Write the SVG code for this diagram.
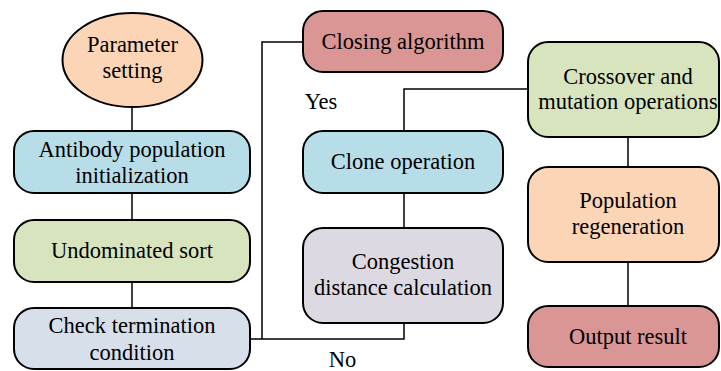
<svg xmlns="http://www.w3.org/2000/svg" width="721" height="371" viewBox="0 0 721 371" font-family="Liberation Serif, serif">
  <style>
    .box { stroke: #000; stroke-width: 2; }
    .wire { fill: none; stroke: #000; stroke-width: 1.5; }
    .peach { fill: #FBD5B5; }
    .blue { fill: #B7DEE8; }
    .green { fill: #D7E4BD; }
    .grey { fill: #D6DFEA; }
    .rose { fill: #D99694; }
    .lilac { fill: #DDD9E3; }
  </style>
  <rect width="721" height="371" fill="#fff"/>

  <!-- flow lines between the steps -->
  <g id="connectors">
    <path class="wire" d="M132,107 V131"/>
    <path class="wire" d="M132,193 V220"/>
    <path class="wire" d="M132,282 V308"/>
    <path class="wire" d="M250,339 H404 V323"/>
    <path class="wire" d="M262,339 V42 H303"/>
    <path class="wire" d="M404,131 V89 H528"/>
    <path class="wire" d="M404,193 V228"/>
    <path class="wire" d="M628,137 V167"/>
    <path class="wire" d="M628,262 V306"/>
  </g>

  <g id="parameter-setting">
    <ellipse class="box peach" cx="132.5" cy="60" rx="70" ry="47"/>
    <text x="132.5" y="52" font-family="Liberation Serif, serif" font-size="22.5" text-anchor="middle">Parameter</text>
    <text x="132.5" y="78" font-family="Liberation Serif, serif" font-size="22.5" text-anchor="middle">setting</text>
  </g>
  <g id="antibody-init">
    <rect class="box blue" x="14" y="131" width="236" height="62" rx="20"/>
    <text x="132" y="157" font-family="Liberation Serif, serif" font-size="22.5" text-anchor="middle">Antibody population</text>
    <text x="132" y="183" font-family="Liberation Serif, serif" font-size="22.5" text-anchor="middle">initialization</text>
  </g>
  <g id="undominated-sort">
    <rect class="box green" x="14" y="220" width="236" height="62" rx="20"/>
    <text x="132" y="258" font-family="Liberation Serif, serif" font-size="22.5" text-anchor="middle">Undominated sort</text>
  </g>
  <g id="check-termination">
    <rect class="box grey" x="14" y="308" width="236" height="61" rx="20"/>
    <text x="132" y="333" font-family="Liberation Serif, serif" font-size="22.5" text-anchor="middle">Check termination</text>
    <text x="132" y="360" font-family="Liberation Serif, serif" font-size="22.5" text-anchor="middle">condition</text>
  </g>
  <g id="closing-algorithm">
    <rect class="box rose" x="303" y="11" width="200" height="61" rx="20"/>
    <text x="403" y="49" font-family="Liberation Serif, serif" font-size="22.5" text-anchor="middle">Closing algorithm</text>
  </g>
  <g id="clone-operation">
    <rect class="box blue" x="303" y="131" width="200" height="62" rx="20"/>
    <text x="403" y="169" font-family="Liberation Serif, serif" font-size="22.5" text-anchor="middle">Clone operation</text>
  </g>
  <g id="congestion-distance">
    <rect class="box lilac" x="303" y="228" width="200" height="95" rx="20"/>
    <text x="403" y="269" font-family="Liberation Serif, serif" font-size="22.5" text-anchor="middle">Congestion</text>
    <text x="403" y="295" font-family="Liberation Serif, serif" font-size="22.5" text-anchor="middle">distance calculation</text>
  </g>
  <g id="crossover-mutation">
    <rect class="box green" x="528" y="42" width="191" height="95" rx="20"/>
    <text x="628" y="84" font-family="Liberation Serif, serif" font-size="22.5" text-anchor="middle">Crossover and</text>
    <text x="628" y="109" font-family="Liberation Serif, serif" font-size="22.5" text-anchor="middle">mutation operations</text>
  </g>
  <g id="population-regeneration">
    <rect class="box peach" x="528" y="167" width="191" height="95" rx="20"/>
    <text x="628" y="208" font-family="Liberation Serif, serif" font-size="22.5" text-anchor="middle">Population</text>
    <text x="628" y="234" font-family="Liberation Serif, serif" font-size="22.5" text-anchor="middle">regeneration</text>
  </g>
  <g id="output-result">
    <rect class="box rose" x="528" y="306" width="191" height="61" rx="20"/>
    <text x="628" y="344" font-family="Liberation Serif, serif" font-size="22.5" text-anchor="middle">Output result</text>
  </g>

  <!-- branch labels -->
  <g id="labels">
    <text x="321" y="109" font-family="Liberation Serif, serif" font-size="22.5" text-anchor="middle">Yes</text>
    <text x="342.5" y="367" font-family="Liberation Serif, serif" font-size="22.5" text-anchor="middle">No</text>
  </g>
</svg>
